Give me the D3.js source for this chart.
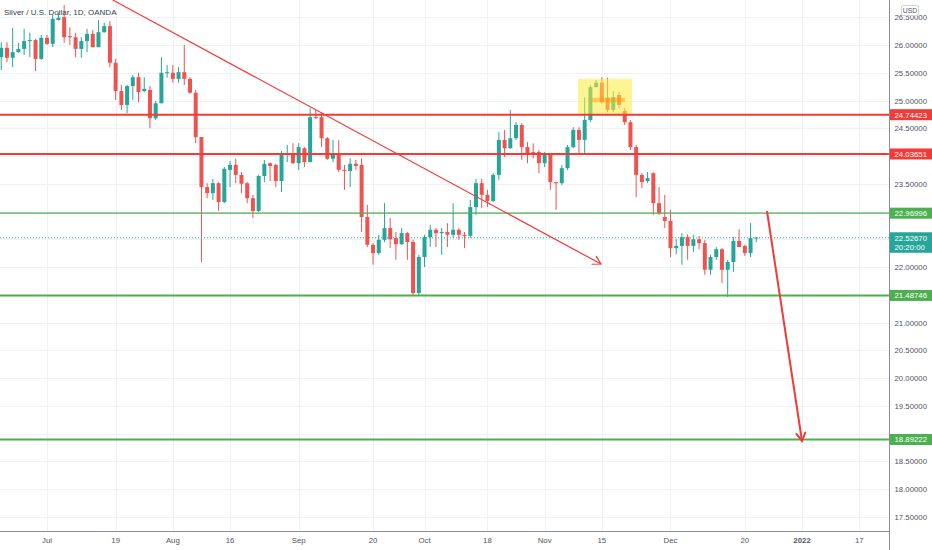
<!DOCTYPE html>
<html>
<head>
<meta charset="utf-8">
<script src="https://cdn.jsdelivr.net/npm/d3@7/dist/d3.min.js"></script>
<style>
  html, body { margin: 0; padding: 0; background: #ffffff; }
  svg { display: block; }
  text { font-family: "Liberation Sans", Arial, sans-serif; }
</style>
</head>
<body>
<svg id="chart" width="932" height="550"></svg>
<script>
// ---------- DATA ----------
const title = "Silver / U.S. Dollar, 1D, OANDA";
const firstDay = "2021-06-21";
const lastDay = "2022-01-31";

// daily OHLC, one value per trading day starting at firstDay
const open = [
  25.78,25.95,25.77,25.87,25.93,26.07,26.09,25.75,26.13,26.02,
  26.45,26.50,26.16,26.14,25.93,26.07,26.20,25.96,26.23,26.34,
  25.68,25.17,24.92,25.26,25.42,25.17,25.19,24.68,24.95,25.50,
  25.50,25.39,25.51,25.39,25.14,24.34,23.44,23.33,23.51,23.17,
  23.75,23.84,23.66,23.51,23.24,23.01,23.64,23.87,23.84,23.55,
  24.02,24.04,23.87,24.14,23.89,24.70,24.70,24.32,23.95,24.02,
  23.75,23.73,23.86,23.84,22.90,22.40,22.25,22.49,22.70,22.52,
  22.41,22.61,22.45,21.53,22.18,22.54,22.67,22.61,22.63,22.58,
  22.67,22.58,22.56,23.08,23.51,23.30,23.19,23.66,24.29,24.14,
  24.32,24.56,24.16,24.07,24.07,23.87,24.02,23.53,23.51,23.78,
  24.16,24.47,24.29,24.65,25.24,25.32,25.05,24.83,25.10,24.81,
  24.61,24.16,23.66,23.55,23.69,23.15,22.90,22.83,22.34,22.38,
  22.54,22.38,22.50,22.43,21.95,22.18,22.32,21.95,22.09,22.47,
  22.38,22.25,22.52
];
const high = [
  26.05,26.05,26.31,26.04,26.29,26.22,26.11,26.18,26.18,26.54,
  26.58,26.72,26.32,26.22,26.14,26.29,26.27,26.45,26.40,26.43,
  25.75,25.28,25.28,25.46,25.50,25.42,25.26,24.99,25.78,25.64,
  25.64,25.60,26.00,25.42,25.19,24.34,23.51,23.59,23.53,23.80,
  23.91,23.95,23.71,23.53,23.30,23.66,23.93,23.88,23.86,24.09,
  24.20,24.23,24.23,24.16,24.86,24.83,24.77,24.34,24.29,24.29,
  23.84,23.96,23.93,23.96,23.12,22.43,22.58,23.15,22.88,22.63,
  22.70,22.63,22.49,22.22,22.58,22.76,22.70,22.70,22.79,23.15,
  22.70,22.63,23.21,23.59,23.59,23.39,23.69,24.43,24.47,24.83,
  24.61,24.59,24.25,24.23,24.11,24.07,24.05,23.53,23.84,24.20,
  24.52,24.52,25.06,25.28,25.37,25.42,25.41,25.17,25.15,24.86,
  24.65,24.20,23.69,23.71,23.71,23.44,23.30,23.03,22.50,22.61,
  22.59,22.58,22.56,22.49,22.22,22.36,22.34,22.13,22.54,22.68,
  22.40,22.79,22.54
];
const low = [
  25.55,25.69,25.60,25.86,25.82,25.78,25.53,25.73,26.00,25.96,
  26.44,26.04,26.00,25.78,25.77,25.87,25.96,25.96,26.22,25.60,
  25.01,24.83,24.77,25.01,24.97,25.15,24.50,24.65,24.95,25.41,
  25.32,25.32,25.28,25.12,24.23,22.09,23.24,23.21,23.01,23.15,
  23.44,23.51,23.33,23.15,22.88,22.99,23.53,23.55,23.44,23.35,
  23.89,23.86,23.75,23.80,23.89,24.67,24.16,23.93,23.89,23.71,
  23.39,23.44,23.75,22.63,22.36,22.04,22.22,22.45,22.34,22.13,
  22.40,22.13,21.50,21.50,22.00,22.36,22.36,22.22,22.36,22.52,
  22.49,22.34,22.52,22.94,23.06,23.08,23.17,23.57,23.98,24.13,
  24.29,23.93,23.87,23.96,23.69,23.80,23.39,23.03,23.48,23.75,
  24.14,24.05,24.05,24.61,25.24,24.95,24.79,24.79,24.86,24.56,
  24.11,23.26,23.42,23.51,22.94,22.94,22.70,22.18,22.23,22.04,
  22.13,22.27,22.32,21.86,21.86,22.13,21.71,21.46,21.91,22.36,
  22.20,22.18,22.45
];
const close = [
  25.95,25.77,25.87,25.93,26.07,26.09,25.75,26.13,26.02,26.47,
  26.49,26.14,26.14,25.93,26.07,26.20,25.96,26.23,26.34,25.68,
  25.17,24.92,25.26,25.42,25.15,25.21,24.68,24.95,25.50,25.51,
  25.39,25.51,25.39,25.14,24.34,23.44,23.33,23.51,23.17,23.77,
  23.84,23.66,23.50,23.24,23.01,23.64,23.86,23.82,23.55,24.02,
  24.05,23.87,24.16,23.89,24.70,24.68,24.32,23.95,24.02,23.75,
  23.73,23.86,23.82,22.90,22.40,22.25,22.49,22.70,22.50,22.41,
  22.61,22.45,21.53,22.18,22.54,22.67,22.61,22.63,22.58,22.67,
  22.58,22.56,23.08,23.51,23.30,23.19,23.66,24.29,24.14,24.32,
  24.56,24.16,24.05,24.05,23.87,24.02,23.53,23.51,23.78,24.16,
  24.47,24.29,24.65,25.24,25.32,24.97,24.83,25.06,24.92,24.61,
  24.16,23.66,23.53,23.60,23.15,22.97,22.83,22.34,22.38,22.54,
  22.38,22.50,22.43,21.95,22.18,22.32,21.95,22.09,22.47,22.36,
  22.25,22.52,22.53
];

const lastPrice = 22.5267;
const countdown = "20:20:00";

// time-axis ticks
const tickDates  = ["2021-07-01","2021-07-19","2021-08-02","2021-08-16","2021-09-01","2021-09-20","2021-10-01","2021-10-18","2021-11-01","2021-11-15","2021-12-01","2021-12-20","2022-01-03","2022-01-17"];
const tickLabels = ["Jul","19","Aug","16","Sep","20","Oct","18","Nov","15","Dec","20","2022","17"];
const priceTicks = [17.5,18,18.5,19,19.5,20,20.5,21,21.5,22,22.5,23,23.5,24,24.5,25,25.5,26,26.5];

// horizontal levels drawn on chart
const levelPrices = [24.74423, 24.03651, 22.96996, 21.48746, 18.89222];
const levelKinds  = ["res", "res", "sup-thin", "sup", "sup"];

// drawings: [bar index, price]
const trendLine   = [[19.5, 26.81], [104.85, 22.054]];
const targetArrow = [[133.87, 23.009], [139.99, 18.865]];
const highlightBox = [[100.83, 25.39], [110.27, 24.74]];
const innerBox     = [[103.1, 25.05], [109.05, 24.97]];

// ---------- LAYOUT ----------
const W = 932, H = 550;
const plotRight = 889.5, plotBottom = 531;
const GREEN = "#26a69a", RED = "#ef5350";
const LRED = "#f23a36", LGREEN = "#4caf50";

const svg = d3.select("#chart");
const parse = d3.utcParse("%Y-%m-%d");
const fmt = d3.utcFormat("%Y-%m-%d");

const dates = d3.utcDay.range(parse(firstDay), d3.utcDay.offset(parse(lastDay), 1))
  .filter(d => d.getUTCDay() !== 0 && d.getUTCDay() !== 6)
  .map(fmt);

const step = 5.72;
const x = d3.scaleBand().domain(dates).range([1.24 - step / 2, 1.24 - step / 2 + dates.length * step]).padding(0);
const xi = d3.scaleLinear().domain([0, dates.length]).range(x.range());
const xc = i => xi(i + 0.5);
const y = d3.scaleLinear().domain([17.5, 26]).range([516.75, 45]);

const candles = open.map((o, i) => ({ date: dates[i], o, h: high[i], l: low[i], c: close[i] }));

svg.append("defs").append("clipPath").attr("id", "plotclip")
  .append("rect").attr("x", 0).attr("y", 0).attr("width", plotRight).attr("height", plotBottom);

// grid
const grid = svg.append("g").attr("clip-path", "url(#plotclip)");
grid.selectAll("line.h").data(priceTicks).join("line")
  .attr("x1", 0).attr("x2", plotRight)
  .attr("y1", d => Math.round(y(d)) + 0.5).attr("y2", d => Math.round(y(d)) + 0.5)
  .attr("stroke", "#eef1f6").attr("stroke-width", 1);
grid.selectAll("line.v").data(tickDates).join("line")
  .attr("x1", d => Math.round(x(d) + x.bandwidth() / 2) + 0.5)
  .attr("x2", d => Math.round(x(d) + x.bandwidth() / 2) + 0.5)
  .attr("y1", 0).attr("y2", plotBottom)
  .attr("stroke", "#eef1f6").attr("stroke-width", 1);

const plot = svg.append("g").attr("clip-path", "url(#plotclip)");

// current-price dotted line
plot.append("line")
  .attr("x1", 0).attr("x2", plotRight)
  .attr("y1", y(lastPrice)).attr("y2", y(lastPrice))
  .attr("stroke", GREEN).attr("stroke-width", 1).attr("stroke-dasharray", "1,2");

// candles
const cg = plot.append("g");
const bw = 4;
cg.selectAll("line.wick").data(candles).join("line")
  .attr("x1", d => x(d.date) + x.bandwidth() / 2)
  .attr("x2", d => x(d.date) + x.bandwidth() / 2)
  .attr("y1", d => y(d.h)).attr("y2", d => y(d.l))
  .attr("stroke", d => d.c >= d.o ? GREEN : RED).attr("stroke-width", 1);
cg.selectAll("rect.body").data(candles).join("rect")
  .attr("x", d => x(d.date) + x.bandwidth() / 2 - bw / 2)
  .attr("width", bw)
  .attr("y", d => y(Math.max(d.o, d.c)))
  .attr("height", d => Math.max(1, Math.abs(y(d.o) - y(d.c))))
  .attr("fill", d => d.c >= d.o ? GREEN : RED);

// highlight boxes
plot.append("rect")
  .attr("x", xc(highlightBox[0][0])).attr("y", y(highlightBox[0][1]))
  .attr("width", xc(highlightBox[1][0]) - xc(highlightBox[0][0]))
  .attr("height", y(highlightBox[1][1]) - y(highlightBox[0][1]))
  .attr("fill", "rgba(255,235,59,0.55)");
plot.append("rect")
  .attr("x", xc(innerBox[0][0])).attr("y", y(innerBox[0][1]))
  .attr("width", xc(innerBox[1][0]) - xc(innerBox[0][0]))
  .attr("height", y(innerBox[1][1]) - y(innerBox[0][1]))
  .attr("fill", "rgba(255,152,0,0.45)");

// horizontal levels
plot.selectAll("line.level").data(levelPrices).join("line")
  .attr("x1", 0).attr("x2", plotRight)
  .attr("y1", d => y(d)).attr("y2", d => y(d))
  .attr("stroke", (d, i) => levelKinds[i] === "res" ? LRED : LGREEN)
  .attr("stroke-width", (d, i) => levelKinds[i] === "sup-thin" ? 1.3 : 2);

// arrows
function arrow(pts, width) {
  const x1 = xc(pts[0][0]), y1 = y(pts[0][1]), x2 = xc(pts[1][0]), y2 = y(pts[1][1]);
  plot.append("line").attr("x1", x1).attr("y1", y1).attr("x2", x2).attr("y2", y2)
    .attr("stroke", LRED).attr("stroke-width", width);
  const ang = Math.atan2(y2 - y1, x2 - x1), L = 9, a = Math.PI / 6;
  const p = [[x2 - L * Math.cos(ang - a), y2 - L * Math.sin(ang - a)], [x2, y2], [x2 - L * Math.cos(ang + a), y2 - L * Math.sin(ang + a)]];
  plot.append("path").attr("d", d3.line()(p)).attr("fill", "none")
    .attr("stroke", LRED).attr("stroke-width", width).attr("stroke-linecap", "round");
}
arrow(trendLine, 1.2);
arrow(targetArrow, 2);

// title
svg.append("text").attr("x", 4).attr("y", 15)
  .attr("font-size", 8).attr("fill", "#3a3e4a").text(title);

// axes lines
svg.append("line").attr("x1", plotRight).attr("x2", plotRight).attr("y1", 0).attr("y2", H)
  .attr("stroke", "#8a8d96").attr("stroke-width", 1);
svg.append("line").attr("x1", 0).attr("x2", plotRight).attr("y1", plotBottom + 0.5).attr("y2", plotBottom + 0.5)
  .attr("stroke", "#8a8d96").attr("stroke-width", 1);

// price axis labels (hidden where a level badge covers them, as the platform does)
const badgeCentres = levelPrices.map(p => y(p)).concat([y(lastPrice) + 4.5]);
const visibleTicks = priceTicks.filter(t => badgeCentres.every(c => Math.abs(y(t) - c) > 11));
const yAxis = d3.axisRight(y).tickValues(visibleTicks).tickSize(0).tickPadding(0)
  .tickFormat(d3.format(".5f"));
const ya = svg.append("g").attr("transform", `translate(${plotRight + 5},0)`).call(yAxis);
ya.select(".domain").remove();
ya.selectAll("text").attr("font-size", 7.8).attr("fill", "#50535e")
  .attr("font-family", "'Liberation Sans', Arial, sans-serif");

// time axis labels
const xAxis = d3.axisBottom(x).tickValues(tickDates).tickSize(0).tickPadding(0)
  .tickFormat((d, i) => tickLabels[i]);
const xa = svg.append("g").attr("transform", `translate(0,${plotBottom + 6})`).call(xAxis);
xa.select(".domain").remove();
xa.selectAll("text").attr("font-size", 7.8).attr("fill", "#50535e")
  .attr("font-family", "'Liberation Sans', Arial, sans-serif")
  .attr("font-weight", (d, i) => tickLabels[i] === "2022" ? "bold" : null);

// level badges on price axis
const badges = svg.append("g");
levelPrices.forEach((p, i) => {
  const c = levelKinds[i] === "res" ? LRED : LGREEN;
  badges.append("rect").attr("x", plotRight + 0.5).attr("y", y(p) - 5.5)
    .attr("width", W - plotRight).attr("height", 11).attr("fill", c);
  badges.append("text").attr("x", plotRight + 5).attr("y", y(p) + 3)
    .attr("font-size", 7.8).attr("fill", "#fff").text(p.toFixed(5));
});
// last price badge
badges.append("rect").attr("x", plotRight + 0.5).attr("y", y(lastPrice) - 5.5)
  .attr("width", W - plotRight).attr("height", 20.5).attr("fill", GREEN);
badges.append("text").attr("x", plotRight + 5).attr("y", y(lastPrice) + 3)
  .attr("font-size", 7.8).attr("fill", "#fff").text(lastPrice.toFixed(5));
badges.append("text").attr("x", plotRight + 5).attr("y", y(lastPrice) + 12.5)
  .attr("font-size", 7.8).attr("fill", "#fff").text(countdown);

// USD badge
svg.append("rect").attr("x", 901.5).attr("y", 5.5).attr("width", 17).attr("height", 10)
  .attr("fill", "#fff").attr("stroke", "#d1d4dc").attr("rx", 1.5);
svg.append("text").attr("x", 910).attr("y", 13).attr("text-anchor", "middle")
  .attr("font-size", 6.8).attr("fill", "#50535e").text("USD");
</script>
</body>
</html>
